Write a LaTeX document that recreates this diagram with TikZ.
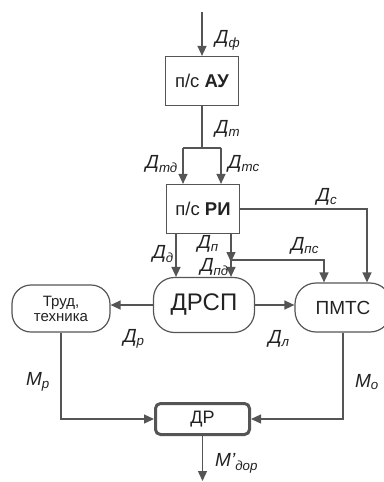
\documentclass[tikz,border=0pt]{standalone}
\usepackage{fontspec}
\setmainfont{Liberation Sans}
\usetikzlibrary{arrows.meta}
\definecolor{ln}{HTML}{555555}
\definecolor{tx}{HTML}{222222}

\begin{document}
\begin{tikzpicture}[x=1pt,y=-1pt,
  box/.style={draw=ln,line width=1.2pt,minimum width=73pt,minimum height=49pt,text=tx,font=\fontsize{18.5}{20}\selectfont,inner sep=0pt},
  oval/.style={draw=ln,line width=1.2pt,rounded corners=21pt,text=tx,inner sep=0pt},
  drbox/.style={draw=ln,line width=3pt,rounded corners=5pt,minimum width=94pt,minimum height=31pt,text=tx,font=\fontsize{18}{20}\selectfont,inner sep=0pt},
  lab/.style={text=tx,font=\fontsize{19}{21}\selectfont\itshape,inner sep=0pt},
  ln/.style={draw=ln,line width=1.3pt},
  arr/.style={ln,-{Triangle[length=10pt,width=9pt]}}]
\useasboundingbox (0,0) rectangle (383,482);
\node[box] (au) at (202,81) {п/с \textbf{АУ}};
\node[box] (ri) at (203,209) {п/с \textbf{РИ}};
\node[oval,minimum width=101pt,minimum height=55pt,font=\fontsize{24}{26}\selectfont] (drsp) at (204,305) {ДРСП};
\node[oval,minimum width=98pt,minimum height=47pt,align=center,font=\fontsize{15}{15}\selectfont,rounded corners=19pt] (trud) at (61,308.5) {Труд,\\техника};
\node[oval,minimum width=96pt,minimum height=49pt,font=\fontsize{19}{21}\selectfont] (pmts) at (343,307.5) {ПМТС};
\node[drbox] (dr) at (202.5,419) {ДР};
\coordinate (in) at (202,12); \coordinate (split) at (202,148);
\coordinate (tdl) at (183,148); \coordinate (tdr) at (221,148);
\coordinate (jn) at (231,260); \coordinate (out) at (202.5,481);
% top
\draw[arr] (in) -- (au);
\draw[ln] (au) -- (split);
\draw[ln] (tdl) -- (tdr);
\draw[arr] (tdl) -- (tdl |- ri.north);
\draw[arr] (tdr) -- (tdr |- ri.north);
% from RI
\draw[arr] ([xshift=-27pt]ri.south) -- ([xshift=-27pt]ri.south |- drsp.north);
\draw[arr] ([xshift=28pt]ri.south) -- ([yshift=-2pt]jn);
\draw[arr] (jn) -- (jn |- drsp.north);
\draw[arr] (jn) -| ([xshift=-19pt]pmts.north);
\draw[arr] (ri.east) -| ([xshift=24pt]pmts.north);
% middle row
\draw[arr] (drsp.west) -- (drsp.west -| trud.east);
\draw[arr] (drsp.east) -- (drsp.east -| pmts.west);
% bottom
\draw[arr] (trud.south) |- (dr.west);
\draw[arr] (pmts.south) |- (dr.east);
\draw[arr] (dr.south) -- (out);
% labels
\node[lab,anchor=west] (l1) at (215,40) {Д\textsubscript{ф}};
\node[lab,anchor=west] (l2) at (215,129) {Д\textsubscript{т}};
\node[lab,anchor=east] (l3) at (178,164) {Д\textsubscript{тд}};
\node[lab,anchor=west] (l4) at (228,164) {Д\textsubscript{тс}};
\node[lab] (l5) at (327,197) {Д\textsubscript{с}};
\node[lab,anchor=east] (l6) at (174,254) {Д\textsubscript{д}};
\node[lab,anchor=east] (l7) at (219,244) {Д\textsubscript{п}};
\node[lab,anchor=east] (l8) at (229,267) {Д\textsubscript{пд}};
\node[lab] (l9) at (305,246) {Д\textsubscript{пс}};
\node[lab] (l10) at (134,339) {Д\textsubscript{р}};
\node[lab] (l11) at (279,339) {Д\textsubscript{л}};
\node[lab] (l12) at (38,382) {М\textsubscript{р}};
\node[lab] (l13) at (367,382) {М\textsubscript{о}};
\node[lab,anchor=west] (l14) at (215,463) {М’\textsubscript{дор}};
\end{tikzpicture}
\end{document}
